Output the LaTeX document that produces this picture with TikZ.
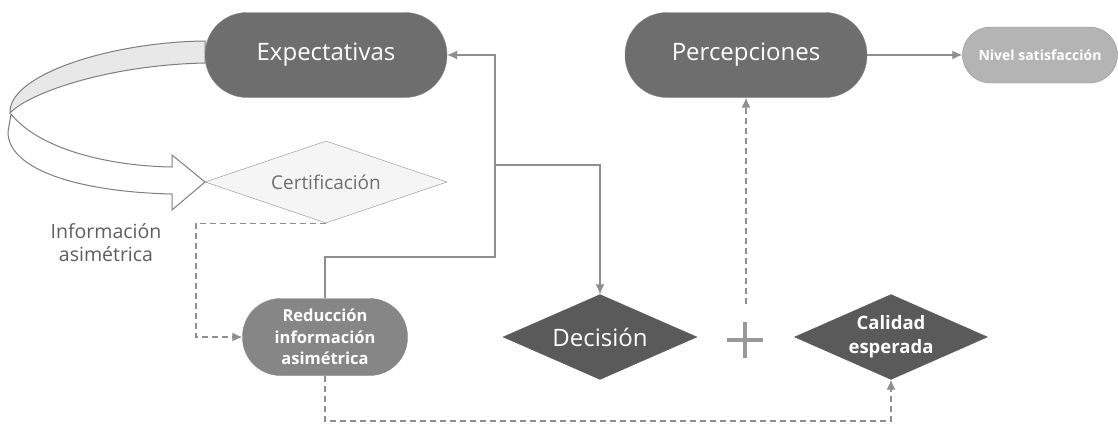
\documentclass[tikz,border=0pt]{standalone}
\usepackage{fontspec}
\setmainfont{Open Sans}
\usepackage{tikz}
\usetikzlibrary{arrows.meta,shapes.geometric}
\definecolor{boxdark}{HTML}{6E6E6E}
\definecolor{boxdeep}{HTML}{5A5A5A}
\definecolor{boxmid}{HTML}{868686}
\definecolor{boxlight}{HTML}{B4B4B4}
\definecolor{linegray}{HTML}{8E8E8E}
\definecolor{textgray}{HTML}{5E5E5E}
\tikzset{
  pill/.style     = {rectangle,draw=boxdark!80,fill=#1,text=white,align=center,inner sep=0pt},
  rhomb/.style    = {diamond,draw=linegray,fill=#1,text=white,align=center,inner sep=0pt,aspect=2.4},
  flowarr/.style  = {-{Latex[length=10pt,width=9pt]},linegray,line width=1.3pt},
  hintarr/.style  = {flowarr,dashed,dash pattern=on 6pt off 4pt}
}
\begin{document}
\begin{tikzpicture}[x=1pt,y=-1pt]
  \useasboundingbox (0,0) rectangle (1118,423);
  \fill[white] (0,0) rectangle (1118,423);
  \filldraw[fill=gray!18,draw=textgray!80,line width=1pt]
    (205,41) .. controls (110,42) and (8,75) .. (10,113)
    .. controls (30,92) and (110,65) .. (205,63) -- cycle;
  \filldraw[fill=white,draw=textgray!80,line width=1pt]
    (11,114) .. controls (40,150) and (110,166) .. (172,167) -- (172,155) -- (205,182)
    -- (172,210) -- (172,194) .. controls (80,192) and (8,170) .. (8,132) -- cycle;
  \node[pill=boxdark,minimum width=242pt,minimum height=85pt,rounded corners=42pt,
        font=\fontsize{24}{28}\selectfont] (expect) at (326,55) {Expectativas};
  \node[pill=boxdark,minimum width=242pt,minimum height=85pt,rounded corners=42pt,
        font=\fontsize{24}{28}\selectfont] (percep) at (746,55) {Percepciones};
  \node[pill=boxlight,draw=boxlight!80!black,minimum width=155pt,minimum height=56pt,rounded corners=28pt,
        font=\fontsize{14}{16}\selectfont\bfseries] (nivel) at (1040,55) {Nivel satisfacción};
  \node[rhomb=gray!8,text=textgray!90,minimum width=242pt,minimum height=82pt,
        font=\fontsize{19}{22}\selectfont] (certif) at (326,182) {Certificación};
  \node[pill=boxmid,minimum width=165pt,minimum height=77pt,rounded corners=38pt,
        font=\fontsize{16.5}{21.5}\selectfont\bfseries] (reduc) at (325,337)
        {Reducción\\información\\asimétrica};
  \node[rhomb=boxdeep,draw=boxdeep,minimum width=194pt,minimum height=85pt,
        font=\fontsize{24}{28}\selectfont] (decis) at (600,337) {Decisión};
  \node[rhomb=boxdeep,draw=boxdeep,minimum width=193pt,minimum height=85pt,
        font=\fontsize{18.5}{24}\selectfont\bfseries] (calid) at (891,337) {Calidad\\esperada};
  \node[text=textgray,align=center,font=\fontsize{19.5}{23}\selectfont] (infoasim) at (106,243)
        {Información\\asimétrica};
  \draw[linegray!90,line width=4pt] (727,340) -- (763,340) (745,322) -- (745,358);
  \coordinate (plustop) at (746,304);
  \coordinate (split) at (495,165);
  \draw[flowarr] (percep) -- (nivel);
  \draw[flowarr] (reduc.north) |- (495,257) -- (split) |- (expect.east);
  \draw[flowarr] (split) -| (decis.north);
  \draw[hintarr] (plustop) -- (percep.south);
  \draw[hintarr] (certif.south) -| (196,280) |- (reduc.west);
  \draw[hintarr] (reduc.south) |- (560,421) -| (calid.south);
\end{tikzpicture}
\end{document}
